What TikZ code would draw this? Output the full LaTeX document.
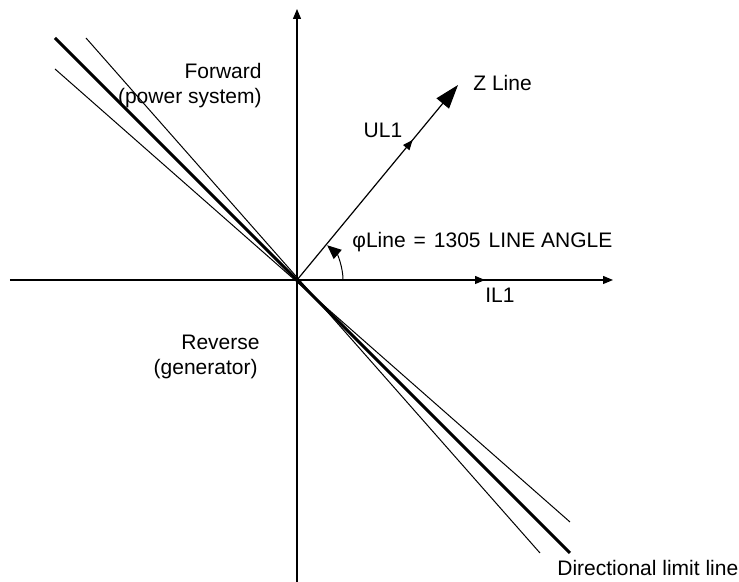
\documentclass[tikz,border=0pt]{standalone}
\usepackage{fontspec}
\setmainfont{Liberation Sans}
\usetikzlibrary{arrows.meta, decorations.markings}

\begin{document}
\begin{tikzpicture}[
    x=0.5pt, y=0.5pt,
    >={Triangle[length=5pt, width=4pt]},
    axis/.style={line width=0.6pt, ->},
    limit/.style={line width=1.5pt},
    band/.style={line width=0.5pt},
    lbl/.style={font=\fontsize{10.5}{12.6}\selectfont, inner sep=0pt},
]
\useasboundingbox (-297,-302) rectangle (442,280);

% Axes
\coordinate (O) at (0,0);
\coordinate (ytop) at (0,271);
\coordinate (ybot) at (0,-302);
\coordinate (xleft) at (-287,0);
\coordinate (xright) at (316,0);
\coordinate (il1) at (188,0);
\draw[axis] (ybot) -- (ytop);
\draw[axis] (xleft) -- (xright);
\draw[axis] (O) -- (il1);

% Directional limit line and its band
\coordinate (limA) at (-242,242);
\coordinate (limB) at (273,-273);
\coordinate (bandA1) at (-211,242);
\coordinate (bandB1) at (243,-273);
\coordinate (bandA2) at (-242,211);
\coordinate (bandB2) at (273,-242);
\draw[limit] (limA) -- (limB);
\draw[band] (bandA1) -- (bandB1);
\draw[band] (bandA2) -- (bandB2);

% Z line with UL1 arrow
\coordinate (zline) at (161,195);
\draw[line width=0.6pt, -{Triangle[length=12pt, width=8pt]},
      decoration={markings, mark=at position 0.72 with {\arrow{Triangle[length=5pt, width=4pt]}}},
      postaction=decorate]
    (O) -- (zline);

% Line angle arc
\coordinate (arcstart) at (46,0);
\draw[line width=0.5pt, -{Triangle[length=7pt, width=6pt]}]
    (arcstart) arc[start angle=0, end angle=49, radius=46];

% Labels
\node[lbl, anchor=west] (zlbl) at (176,197) {Z Line};
\node[lbl] (ul1) at (86,150) {UL1};
\node[lbl, anchor=west] (angle) at (55,38)
    {φLine\hspace{4pt}=\hspace{4pt}1305\hspace{4pt}LINE ANGLE};
\node[lbl, anchor=west] (il1lbl) at (188,-15) {IL1};
\node[lbl, anchor=east] (fwd) at (-35,209) {Forward};
\node[lbl, anchor=east] (fwdsub) at (-35,182) {(power system)};
\node[lbl, anchor=east] (rev) at (-37,-62) {Reverse};
\node[lbl, anchor=east] (revsub) at (-39,-89) {(generator)};
\node[lbl, anchor=west] (dirlbl) at (260,-288) {Directional limit line};

\end{tikzpicture}
\end{document}
